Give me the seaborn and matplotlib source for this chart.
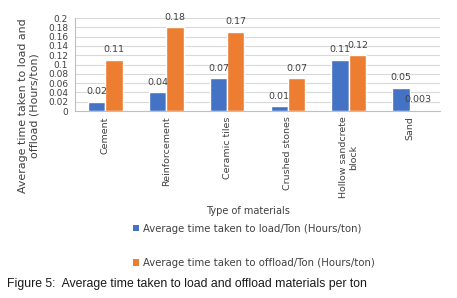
import numpy as np
import pandas as pd
import seaborn as sns
from matplotlib import pyplot as plt
from matplotlib.patches import Patch

materials = ["Cement", "Reinforcement", "Ceramic tiles", "Crushed stones",
             "Hollow sandcrete\nblock", "Sand"]
load_time = [0.02, 0.04, 0.07, 0.01, 0.11, 0.05]
offload_time = [0.11, 0.18, 0.17, 0.07, 0.12, 0.003]
series_names = ["Average time taken to load/Ton (Hours/ton)",
                "Average time taken to offload/Ton (Hours/ton)"]
colors = ["#4472C4", "#ED7D31"]
yticks = [0, 0.02, 0.04, 0.06, 0.08, 0.1, 0.12, 0.14, 0.16, 0.18, 0.2]

df = pd.DataFrame({
    "material": materials * 2,
    "value": load_time + offload_time,
    "series": [series_names[0]] * len(materials) + [series_names[1]] * len(materials),
})

sns.set_style("white")
plt.rcParams['font.family'] = ['DejaVu Sans']
text_color = "#404040"

fig = plt.figure(figsize=(4.57, 2.98), dpi=100)
ax = fig.add_axes([0.164, 0.6275, 0.799, 0.312])

sns.barplot(data=df, x="material", y="value", hue="series", palette=colors,
            width=0.57, ax=ax, legend=False, saturation=1)

for cont, vals in zip(ax.containers, [load_time, offload_time]):
    ax.bar_label(cont, labels=["%g" % v for v in vals], padding=4,
                 fontsize=6.8, color=text_color)

ax.set_ylim(0, 0.2)
ax.set_yticks(yticks)
ax.set_yticklabels(["%g" % t for t in yticks], fontsize=6.5, color=text_color)
ax.yaxis.grid(True, color="#d9d9d9", linewidth=0.8)
ax.set_axisbelow(True)
ax.set_xlim(-0.5, len(materials) - 0.5)

ax.set_xticks(range(len(materials)))
ax.set_xticklabels(materials, rotation=90, fontsize=6.8, color=text_color,
                   va="top", ha="center", multialignment="center")
ax.tick_params(axis="x", length=0, pad=4)
ax.set_xticks(np.arange(-0.5, len(materials), 1), minor=True)
ax.tick_params(axis="x", which="minor", length=4, color="#bfbfbf", width=0.8)
ax.tick_params(axis="y", length=3, color="#bfbfbf", width=0.8, pad=2)

for side in ["top", "right"]:
    ax.spines[side].set_visible(False)
for side in ["left", "bottom"]:
    ax.spines[side].set_color("#bfbfbf")
    ax.spines[side].set_linewidth(0.8)

ax.set_xlabel("")
ax.set_ylabel("Average time taken to load and\noffload (Hours/ton)", fontsize=7.9,
              color=text_color)
ax.yaxis.set_label_coords(-0.098, 0.06)

fig.text(0.543, 0.292, "Type of materials", fontsize=7, color=text_color,
         ha="center", va="center")

handles = [Patch(facecolor=c, edgecolor="none") for c in colors]
fig.legend(handles, series_names, loc="center", bbox_to_anchor=(0.555, 0.175),
           frameon=False, fontsize=7.3, labelcolor=text_color,
           handlelength=0.6, handleheight=0.6, handletextpad=0.4,
           labelspacing=2.4)

fig.text(0.015, 0.048, "Figure 5:  Average time taken to load and offload materials per ton",
         fontsize=8.8, family="Liberation Sans", color="#1a1a1a",
         ha="left", va="center")

fig.savefig("out.png", dpi=100)
